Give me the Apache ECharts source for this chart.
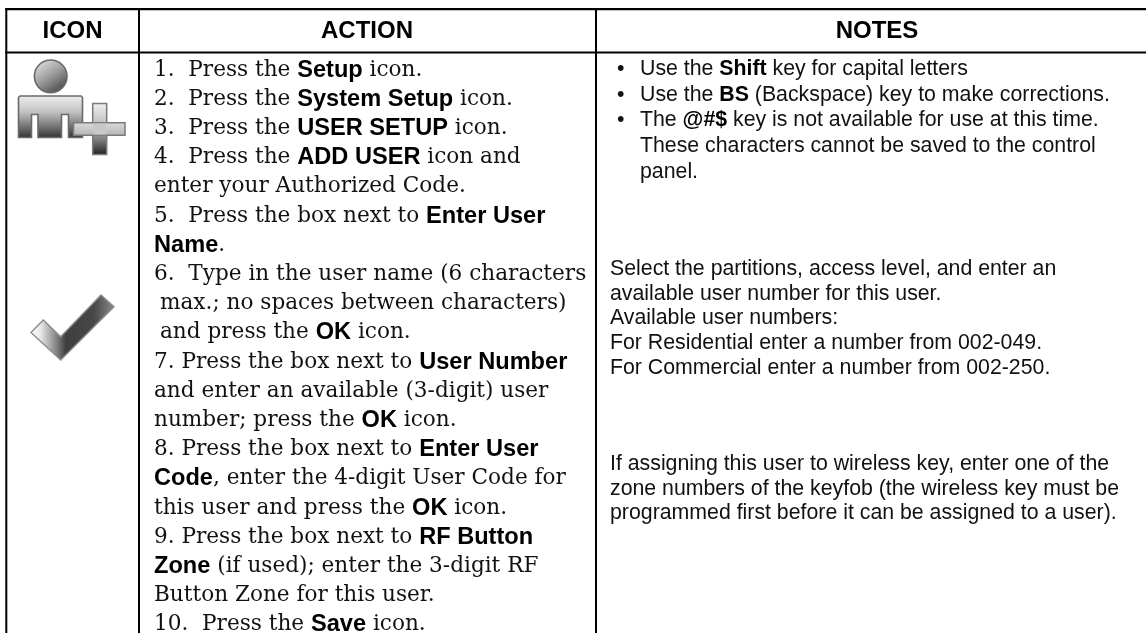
<!DOCTYPE html>
<html>
<head>
<meta charset="utf-8">
<style>html,body{margin:0;padding:0;background:#fff}#c{width:1146px;height:633px}</style>
<script src="https://cdn.jsdelivr.net/npm/echarts@6/dist/echarts.min.js"></script>
</head>
<body>
<div id="c"></div>
<script>
var headers = ['ICON', 'ACTION', 'NOTES'];
var actionLines = [
  '1.  Press the {b|Setup} icon.',
  '2.  Press the {b|System Setup} icon.',
  '3.  Press the {b|USER SETUP} icon.',
  '4.  Press the {b|ADD USER} icon and',
  'enter your Authorized Code.',
  '5.  Press the box next to {b|Enter User}',
  '{b|Name}.',
  '6.  Type in the user name (6 characters',
  ' max.; no spaces between characters)',
  ' and press the {b|OK} icon.',
  '7. Press the box next to {b|User Number}',
  'and enter an available (3-digit) user',
  'number; press the {b|OK} icon.',
  '8. Press the box next to {b|Enter User}',
  '{b|Code}, enter the 4-digit User Code for',
  'this user and press the {b|OK} icon.',
  '9. Press the box next to {b|RF Button}',
  '{b|Zone} (if used); enter the 3-digit RF',
  'Button Zone for this user.',
  '10.  Press the {b|Save} icon.'
];
var bulletNotes = [
  ['Use the {b|Shift} key for capital letters'],
  ['Use the {b|BS} (Backspace) key to make corrections.'],
  ['The {b|@#$} key is not available for use at this time.', 'These characters cannot be saved to the control', 'panel.']
];
var partitionNotes = [
  'Select the partitions, access level, and enter an',
  'available user number for this user.',
  'Available user numbers:',
  'For Residential enter a number from 002-049.',
  'For Commercial enter a number from 002-250.'
];
var keyNotes = [
  'If assigning this user to wireless key, enter one of the',
  'zone numbers of the keyfob (the wireless key must be',
  'programmed first before it can be assigned to a user).'
];

var W = 1146, H = 633;
var SANS = '"Liberation Sans", Arimo, sans-serif';
var SERIF = '"DejaVu Serif", serif';
var INK = '#111';
var RULE = '#000';

function grad(x0, y0, x1, y1, stops) {
  return new echarts.graphic.LinearGradient(x0, y0, x1, y1, stops.map(function (s) { return { offset: s[0], color: s[1] }; }));
}

var textRows = [];
headers.forEach(function (h, i) {
  textRows.push({ text: h, x: [72.5, 367, 877][i], y: 31, kind: 'head' });
});
actionLines.forEach(function (t, i) {
  var indent = t.charAt(0) === ' ' ? 6 : 0;
  textRows.push({ text: t.replace(/^ /, ''), x: 154 + indent, y: 70 + i * 29.2, kind: 'action' });
});
var noteY = 69;
bulletNotes.forEach(function (group) {
  group.forEach(function (t, j) {
    if (j === 0) textRows.push({ text: '\u2022', x: 617, y: noteY, kind: 'note' });
    textRows.push({ text: t, x: 640, y: noteY, kind: 'note' });
    noteY += 25.7;
  });
});
partitionNotes.forEach(function (t, i) {
  textRows.push({ text: t, x: 610, y: 269 + i * 24.75, kind: 'note' });
});
keyNotes.forEach(function (t, i) {
  textRows.push({ text: t, x: 610, y: 464 + i * 24.75, kind: 'note' });
});

var KIND = {
  head: { fontFamily: SANS, fontWeight: 'bold', fontSize: 24, align: 'center', fill: '#000' },
  action: { fontFamily: SERIF, fontSize: 21.6, align: 'left', fill: INK },
  note: { fontFamily: SANS, fontSize: 21.3, align: 'left', fill: INK }
};

var chart = echarts.init(document.getElementById('c'), null, { renderer: 'canvas', width: W, height: H });

var stroke = '#6a6a6a';
var bodyShape = [[18.5, 97.5], [20, 96], [81, 96], [82.5, 97.5], [82.5, 137.5], [68.5, 137.5], [68.5, 114.5], [61.5, 114.5], [61.5, 137.5], [38, 137.5], [38, 114.5], [31.5, 114.5], [31.5, 137.5], [18.5, 137.5]];
var plusV = { x: 92.7, y: 103.5, width: 14, height: 51 };
var plusH = { x: 73.5, y: 122.7, width: 51.5, height: 12.6 };
var checkShape = [[31, 332.4], [43.3, 320], [60.7, 336.7], [101, 295], [114, 306.7], [60.7, 360]];

var graphics = [
  { type: 'rect', silent: true, shape: { x: 5.3, y: 8, width: W, height: 2.2 }, style: { fill: RULE } },
  { type: 'rect', silent: true, shape: { x: 5.3, y: 51.5, width: W, height: 2 }, style: { fill: RULE } },
  { type: 'rect', silent: true, shape: { x: 5.3, y: 8, width: 2, height: H }, style: { fill: RULE } },
  { type: 'rect', silent: true, shape: { x: 138, y: 8, width: 2, height: H }, style: { fill: RULE } },
  { type: 'rect', silent: true, shape: { x: 595, y: 8, width: 2, height: H }, style: { fill: RULE } },
  { type: 'circle', silent: true, shape: { cx: 50.7, cy: 76.3, r: 16.3 }, style: { fill: grad(0.15, 0, 0.85, 1, [[0, '#e4e4e4'], [0.5, '#9a9a9a'], [1, '#3c3c3c']]), stroke: stroke, lineWidth: 1.6 } },
  { type: 'polygon', silent: true, shape: { points: bodyShape }, style: { fill: grad(0, 0, 0, 1, [[0, '#f0f0f0'], [0.4, '#c0c0c0'], [0.75, '#6e6e6e'], [1, '#2f2f2f']]), stroke: stroke, lineWidth: 1.6 } },
  { type: 'rect', silent: true, shape: plusV, style: { fill: grad(0, 0, 0, 1, [[0, '#efefef'], [0.45, '#bcbcbc'], [0.7, '#808080'], [1, '#1e1e1e']]), stroke: '#7a7a7a', lineWidth: 1.5 } },
  { type: 'rect', silent: true, shape: plusH, style: { fill: grad(0, 0, 0, 1, [[0, '#dcdcdc'], [1, '#b4b4b4']]), stroke: '#7a7a7a', lineWidth: 1.5 } },
  { type: 'rect', silent: true, shape: { x: 93.5, y: 123.5, width: 12.4, height: 11 }, style: { fill: '#c8c8c8' } },
  { type: 'polygon', silent: true, shape: { points: checkShape }, style: { fill: grad(0, 0.5, 1, 0.5, [[0, '#ffffff'], [0.12, '#e8e8e8'], [0.32, '#7d7d7d'], [0.42, '#3f3f3f'], [0.75, '#474747'], [1, '#8a8a8a']]), stroke: '#8c8c8c', lineWidth: 1.4 } }
];

chart.setOption({
  animation: false,
  backgroundColor: '#fff',
  grid: { left: 0, top: 0, width: W, height: H },
  xAxis: { type: 'value', min: 0, max: W, show: false },
  yAxis: { type: 'value', min: 0, max: H, inverse: true, show: false },
  graphic: graphics,
  series: [{
    type: 'custom',
    coordinateSystem: 'cartesian2d',
    silent: true,
    clip: false,
    data: textRows.map(function (r, i) { return [r.x, r.y, i]; }),
    renderItem: function (params, api) {
      var r = textRows[api.value(2)];
      var k = KIND[r.kind];
      var p = api.coord([api.value(0), api.value(1)]);
      return {
        type: 'text',
        x: p[0], y: p[1],
        style: {
          text: r.text,
          fontFamily: k.fontFamily,
          fontWeight: k.fontWeight || 'normal',
          fontSize: k.fontSize,
          align: k.align,
          verticalAlign: 'middle',
          fill: k.fill,
          rich: { b: { fontFamily: SANS, fontWeight: 'bold', fontSize: r.kind === 'action' ? 23.6 : 21.3, fill: '#000' } }
        }
      };
    }
  }]
});
</script>
</body>
</html>
